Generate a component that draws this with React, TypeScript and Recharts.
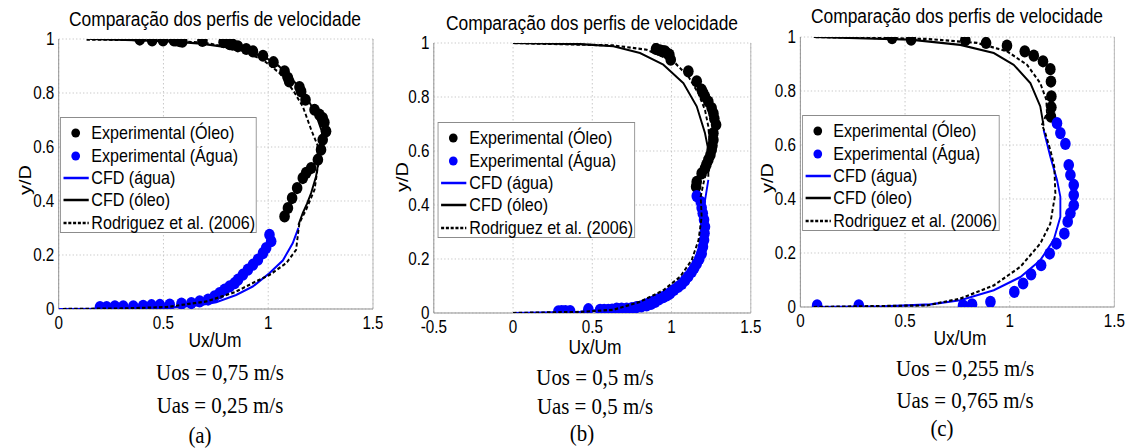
import React from 'react';
import { ScatterChart, Scatter, XAxis, YAxis, CartesianGrid, ReferenceLine } from 'recharts';

type P = { x: number; y: number };
const pts = (a: number[][]): P[] => a.map(([x, y]) => ({ x, y }));

// ---------- Panel (a) ----------
const aExpOleo = pts([
  [0.387, 0.998], [0.446, 0.995], [0.498, 0.995], [0.55, 0.995], [0.56, 0.995], [0.578, 0.992], [0.59, 0.99],
  [0.686, 0.993], [0.787, 0.988], [0.816, 0.981], [0.83, 0.979], [0.855, 0.973], [0.895, 0.963], [0.927, 0.954],
  [0.975, 0.938], [1.025, 0.914], [1.078, 0.88], [1.094, 0.856], [1.1, 0.843], [1.149, 0.822], [1.157, 0.806],
  [1.178, 0.775], [1.221, 0.738], [1.244, 0.72], [1.26, 0.707], [1.268, 0.691], [1.276, 0.658], [1.26, 0.627],
  [1.252, 0.59], [1.237, 0.553], [1.205, 0.522], [1.181, 0.504], [1.165, 0.485], [1.138, 0.448], [1.114, 0.411],
  [1.094, 0.374], [1.078, 0.343],
]);
const aExpAgua = pts([
  [1.006, 0.275], [1.014, 0.251], [0.99, 0.226], [0.975, 0.207], [0.951, 0.183], [0.927, 0.164], [0.903, 0.146],
  [0.879, 0.127], [0.856, 0.109], [0.84, 0.096], [0.816, 0.084], [0.792, 0.072], [0.768, 0.059], [0.744, 0.047],
  [0.713, 0.035], [0.673, 0.028], [0.633, 0.022], [0.586, 0.02], [0.53, 0.016], [0.483, 0.015], [0.443, 0.014],
  [0.403, 0.012], [0.356, 0.01], [0.308, 0.01], [0.268, 0.01], [0.229, 0.007], [0.197, 0.007],
]);
const aCfdAgua = pts([
  [0, 0], [0.3, 0.001], [0.514, 0.004], [0.673, 0.014], [0.752, 0.025], [0.847, 0.052], [0.926, 0.083],
  [1.006, 0.133], [1.07, 0.18], [1.117, 0.244], [1.144, 0.3],
]);
const aCfdOleo = pts([
  [0.15, 1], [0.4, 0.995], [0.55, 0.99], [0.68, 0.983], [0.8, 0.97], [0.9, 0.955], [0.99, 0.93], [1.05, 0.9],
  [1.1, 0.862], [1.15, 0.82], [1.18, 0.788], [1.215, 0.74], [1.237, 0.7], [1.255, 0.66], [1.26, 0.627],
  [1.257, 0.59], [1.244, 0.564], [1.228, 0.49], [1.205, 0.43], [1.185, 0.39], [1.165, 0.356], [1.144, 0.311],
]);
const aRodriguez = pts([
  [0.02, 0], [0.3, 0.002], [0.514, 0.007], [0.705, 0.028], [0.84, 0.062], [0.926, 0.096], [1.006, 0.126],
  [1.086, 0.17], [1.133, 0.219], [1.144, 0.29], [1.149, 0.319], [1.181, 0.368], [1.221, 0.442], [1.237, 0.528],
  [1.235, 0.607], [1.205, 0.664], [1.165, 0.75], [1.117, 0.812], [1.054, 0.874], [0.975, 0.923], [0.863, 0.96],
  [0.705, 0.985], [0.514, 0.995], [0.133, 0.998],
]);

// ---------- Panel (b) ----------
const bExpOleo = pts([
  [0.902, 0.978], [0.927, 0.973], [0.945, 0.97], [0.959, 0.969], [0.975, 0.96], [0.986, 0.957], [0.995, 0.938],
  [1.106, 0.895], [1.159, 0.858], [1.19, 0.827], [1.2, 0.815], [1.211, 0.802], [1.232, 0.783], [1.253, 0.759],
  [1.264, 0.74], [1.27, 0.72], [1.281, 0.697], [1.264, 0.666], [1.264, 0.641], [1.258, 0.62], [1.253, 0.604],
  [1.245, 0.585], [1.232, 0.567], [1.22, 0.55], [1.211, 0.536], [1.19, 0.517], [1.159, 0.486], [1.155, 0.468],
]);
const bExpAgua = pts([
  [1.159, 0.433], [1.184, 0.412], [1.19, 0.39], [1.197, 0.369], [1.205, 0.345], [1.211, 0.319], [1.208, 0.295],
  [1.205, 0.27], [1.198, 0.245], [1.19, 0.22], [1.175, 0.2], [1.159, 0.183], [1.143, 0.167], [1.127, 0.152],
  [1.105, 0.135], [1.085, 0.121], [1.065, 0.108], [1.043, 0.097], [1.015, 0.085], [0.99, 0.072], [0.97, 0.065],
  [0.948, 0.059], [0.92, 0.05], [0.896, 0.041], [0.87, 0.034], [0.843, 0.028], [0.81, 0.024], [0.78, 0.022],
  [0.75, 0.018], [0.717, 0.016], [0.685, 0.016], [0.654, 0.016], [0.625, 0.013], [0.601, 0.012], [0.575, 0.012],
  [0.549, 0.012], [0.475, 0.014], [0.36, 0.007], [0.33, 0.007], [0.307, 0.007], [0.286, 0.006],
]);
const bCfdAgua = pts([
  [0, 0], [0.423, 0.004], [0.633, 0.016], [0.8, 0.041], [0.948, 0.078], [1.054, 0.121], [1.138, 0.183],
  [1.18, 0.257], [1.197, 0.332], [1.205, 0.394], [1.232, 0.493],
]);
const bCfdOleo = pts([
  [0, 1], [0.423, 0.996], [0.633, 0.988], [0.801, 0.963], [0.948, 0.92], [1.075, 0.851], [1.159, 0.765],
  [1.211, 0.666], [1.232, 0.604], [1.232, 0.505],
]);
const bRodriguez = pts([
  [0, 0], [0.423, 0.004], [0.633, 0.012], [0.8, 0.041], [0.948, 0.084], [1.054, 0.134], [1.127, 0.196],
  [1.17, 0.27], [1.19, 0.356], [1.184, 0.431], [1.197, 0.468], [1.211, 0.505], [1.232, 0.567], [1.239, 0.641],
  [1.232, 0.691], [1.211, 0.752], [1.169, 0.814], [1.106, 0.876], [1.012, 0.932], [0.843, 0.975], [0.633, 0.991],
  [0, 1],
]);

// ---------- Panel (c) ----------
const cExpOleo = pts([
  [0.438, 0.996], [0.529, 0.99], [0.788, 0.988], [0.887, 0.978], [0.987, 0.968], [1.072, 0.947], [1.115, 0.931],
  [1.159, 0.91], [1.194, 0.881], [1.197, 0.835], [1.199, 0.78], [1.199, 0.74], [1.197, 0.705],
]);
const cExpAgua = pts([
  [0.08, 0.006], [0.279, 0.006], [0.777, 0.006], [0.82, 0.01], [0.908, 0.019], [1.022, 0.056], [1.064, 0.087],
  [1.102, 0.121], [1.15, 0.155], [1.191, 0.198], [1.223, 0.235], [1.261, 0.272], [1.277, 0.316], [1.29, 0.347],
  [1.306, 0.377], [1.306, 0.415], [1.306, 0.452], [1.29, 0.489], [1.282, 0.526], [1.266, 0.604], [1.242, 0.644],
  [1.226, 0.681],
]);
const cCfdAgua = pts([
  [0.06, 0], [0.4, 0.002], [0.621, 0.01], [0.764, 0.025], [0.924, 0.062], [1.051, 0.111], [1.146, 0.173],
  [1.21, 0.248], [1.242, 0.334], [1.242, 0.408], [1.226, 0.47], [1.194, 0.557], [1.162, 0.656],
]);
const cCfdOleo = pts([
  [0.064, 1], [0.525, 0.99], [0.764, 0.971], [0.924, 0.941], [1.019, 0.897], [1.099, 0.829], [1.146, 0.743],
  [1.162, 0.671],
]);
const cRodriguez = pts([
  [0.064, 0], [0.605, 0.006], [0.764, 0.031], [0.924, 0.08], [1.051, 0.149], [1.146, 0.235], [1.194, 0.309],
  [1.218, 0.421], [1.213, 0.52], [1.194, 0.582], [1.17, 0.644], [1.154, 0.675], [1.178, 0.718], [1.175, 0.767],
  [1.146, 0.829], [1.083, 0.897], [0.987, 0.947], [0.844, 0.978], [0.605, 0.993], [0.064, 1],
]);

// ---------- Ticks & labels ----------
const yTicks = [0, 0.2, 0.4, 0.6, 0.8, 1];
const xTicksA = [0, 0.5, 1, 1.5];
const xTicksB = [-0.5, 0, 0.5, 1, 1.5];
const xTicksC = [0, 0.5, 1, 1.5];
const title = 'Comparação dos perfis de velocidade';
const legendLabels = ['Experimental (Óleo)', 'Experimental (Água)', 'CFD (água)', 'CFD (óleo)', 'Rodriguez et al. (2006)'];
const captionsA = ['Uos = 0,75 m/s', 'Uas = 0,25 m/s', '(a)'];
const captionsB = ['Uos = 0,5 m/s', 'Uas = 0,5 m/s', '(b)'];
const captionsC = ['Uos = 0,255 m/s', 'Uas = 0,765 m/s', '(c)'];

// ---------- Layout (horizontal scale of the original figure) ----------
const S = 0.87;
const vx = (a: number) => a / S;
const BLUE = '#0000ff';
const SANS = '"Liberation Sans", Arial, sans-serif';
const SERIF = '"Liberation Serif", "Times New Roman", serif';
const CH = 340;

const Dot = (fill: string) => (props: any) => <circle cx={props.cx} cy={props.cy} r={6.1} fill={fill} />;
const NoShape = () => <g />;
const fmt = (v: number) => String(v);

type PanelProps = {
  left: number; // actual px
  width: number; // actual px
  plot: { l: number; r: number; t: number; b: number }; // actual px
  xDomain: [number, number];
  xTicks: number[];
  expOleo: P[]; expAgua: P[]; cfdAgua: P[]; cfdOleo: P[]; rod: P[];
};

function Panel(p: PanelProps) {
  const w = vx(p.width);
  const plotL = vx(p.plot.l) - vx(p.left);
  const plotR = vx(p.plot.r) - vx(p.left);
  return (
    <div style={{ position: 'absolute', left: vx(p.left), top: 0 }}>
      <ScatterChart width={w} height={CH} margin={{ top: p.plot.t, right: w - plotR, left: 0, bottom: 0 }} style={{ overflow: 'visible' }}>
        <CartesianGrid stroke="#c4c4c4" strokeDasharray="1.5 2.5" />
        <XAxis
          type="number" dataKey="x" domain={p.xDomain} ticks={p.xTicks} interval={0} allowDataOverflow
          height={CH - p.plot.b} tickLine={false} tickSize={5} tickMargin={3} tickFormatter={fmt}
          axisLine={{ stroke: '#8c8c8c' }} tick={{ fontSize: 17.5, fill: '#000', fontFamily: SANS }}
        />
        <YAxis
          type="number" dataKey="y" domain={[0, 1]} ticks={yTicks} interval={0} allowDataOverflow
          width={plotL} tickLine={false} tickSize={2} tickMargin={3} tickFormatter={fmt}
          axisLine={{ stroke: '#8c8c8c' }} tick={{ fontSize: 17.5, fill: '#000', fontFamily: SANS }}
        />
        <ReferenceLine x={p.xDomain[1]} stroke="#b4b4b4" />
        <Scatter data={p.expOleo} fill="#000" shape={Dot('#000')} isAnimationActive={false} />
        <Scatter data={p.expAgua} fill={BLUE} shape={Dot(BLUE)} isAnimationActive={false} />
        <Scatter data={p.cfdAgua} fill={BLUE} shape={NoShape} line={{ stroke: BLUE, strokeWidth: 2.2 }} isAnimationActive={false} />
        <Scatter data={p.cfdOleo} fill="#000" shape={NoShape} line={{ stroke: '#000', strokeWidth: 2.2 }} isAnimationActive={false} />
        <Scatter data={p.rod} fill="#000" shape={NoShape} line={{ stroke: '#000', strokeWidth: 2.2, strokeDasharray: '4 2.5' }} isAnimationActive={false} />
      </ScatterChart>
    </div>
  );
}

function Legend({ left, top, right, bottom }: { left: number; top: number; right: number; bottom: number }) {
  const symbols = [
    <svg width={34} height={22}><ellipse cx={17} cy={11} rx={5} ry={4.5} fill="#000" /></svg>,
    <svg width={34} height={22}><ellipse cx={17} cy={11} rx={5} ry={4.5} fill={BLUE} /></svg>,
    <svg width={34} height={22}><line x1={3} y1={11} x2={32} y2={11} stroke={BLUE} strokeWidth={2.4} /></svg>,
    <svg width={34} height={22}><line x1={3} y1={11} x2={32} y2={11} stroke="#000" strokeWidth={2.4} /></svg>,
    <svg width={34} height={22}><line x1={3} y1={11} x2={32} y2={11} stroke="#000" strokeWidth={2.4} strokeDasharray="3.5 2" /></svg>,
  ];
  return (
    <div
      style={{
        position: 'absolute', left: vx(left), top, width: vx(right) - vx(left), height: bottom - top,
        border: '1px solid #8c8c8c', background: '#fff', boxSizing: 'border-box', paddingTop: 4,
        fontFamily: SANS, fontSize: 18.5, color: '#000',
      }}
    >
      {legendLabels.map((t, i) => (
        <div key={t} style={{ display: 'flex', alignItems: 'center', height: 22.4, whiteSpace: 'nowrap' }}>
          {symbols[i]}
          <span style={{ marginLeft: 1, lineHeight: '22px' }}>{t}</span>
        </div>
      ))}
    </div>
  );
}

function Txt({ x, y, children, size, font, rotate }: { x: number; y: number; children: React.ReactNode; size: number; font: string; rotate?: boolean }) {
  return (
    <div
      style={{
        position: 'absolute', left: vx(x), top: y, whiteSpace: 'nowrap', fontFamily: font, fontSize: size, color: '#000',
        lineHeight: 1, transform: `translate(-50%, -50%)${rotate ? ' rotate(-90deg)' : ''}`,
      }}
    >
      {children}
    </div>
  );
}

export default function App() {
  return (
    <div style={{ position: 'absolute', left: 0, top: 0, width: 1139, height: 448, overflow: 'hidden', background: '#fff' }}>
      <div style={{ position: 'absolute', left: 0, top: 0, width: vx(1139), height: 448, transform: `scaleX(${S})`, transformOrigin: '0 0' }}>
        <Panel left={0} width={383} plot={{ l: 58.7, r: 373, t: 39, b: 309 }} xDomain={[0, 1.5]} xTicks={xTicksA}
          expOleo={aExpOleo} expAgua={aExpAgua} cfdAgua={aCfdAgua} cfdOleo={aCfdOleo} rod={aRodriguez} />
        <Panel left={383} width={395} plot={{ l: 434, r: 751, t: 43, b: 313 }} xDomain={[-0.5, 1.5]} xTicks={xTicksB}
          expOleo={bExpOleo} expAgua={bExpAgua} cfdAgua={bCfdAgua} cfdOleo={bCfdOleo} rod={bRodriguez} />
        <Panel left={760} width={379} plot={{ l: 800, r: 1114, t: 37, b: 307 }} xDomain={[0, 1.5]} xTicks={xTicksC}
          expOleo={cExpOleo} expAgua={cExpAgua} cfdAgua={cCfdAgua} cfdOleo={cCfdOleo} rod={cRodriguez} />

        <Legend left={60} top={117} right={257} bottom={233} />
        <Legend left={438} top={122} right={635} bottom={238} />
        <Legend left={802} top={115} right={1000} bottom={231} />

        <Txt x={215} y={19} size={20} font={SANS}>{title}</Txt>
        <Txt x={592} y={23} size={20} font={SANS}>{title}</Txt>
        <Txt x={957} y={16} size={20} font={SANS}>{title}</Txt>

        <Txt x={25} y={180} size={20} font={SANS} rotate>y/D</Txt>
        <Txt x={402} y={177} size={20} font={SANS} rotate>y/D</Txt>
        <Txt x={767} y={178} size={20} font={SANS} rotate>y/D</Txt>

        <Txt x={215} y={340} size={20} font={SANS}>Ux/Um</Txt>
        <Txt x={595} y={347} size={20} font={SANS}>Ux/Um</Txt>
        <Txt x={960} y={338} size={20} font={SANS}>Ux/Um</Txt>

        <Txt x={220} y={372} size={24} font={SERIF}>{captionsA[0]}</Txt>
        <Txt x={220} y={405} size={24} font={SERIF}>{captionsA[1]}</Txt>
        <Txt x={200} y={435} size={24} font={SERIF}>{captionsA[2]}</Txt>

        <Txt x={595} y={377} size={24} font={SERIF}>{captionsB[0]}</Txt>
        <Txt x={595} y={406} size={24} font={SERIF}>{captionsB[1]}</Txt>
        <Txt x={582} y={433} size={24} font={SERIF}>{captionsB[2]}</Txt>

        <Txt x={965} y={368} size={24} font={SERIF}>{captionsC[0]}</Txt>
        <Txt x={965} y={400} size={24} font={SERIF}>{captionsC[1]}</Txt>
        <Txt x={942} y={428} size={24} font={SERIF}>{captionsC[2]}</Txt>
      </div>
    </div>
  );
}
